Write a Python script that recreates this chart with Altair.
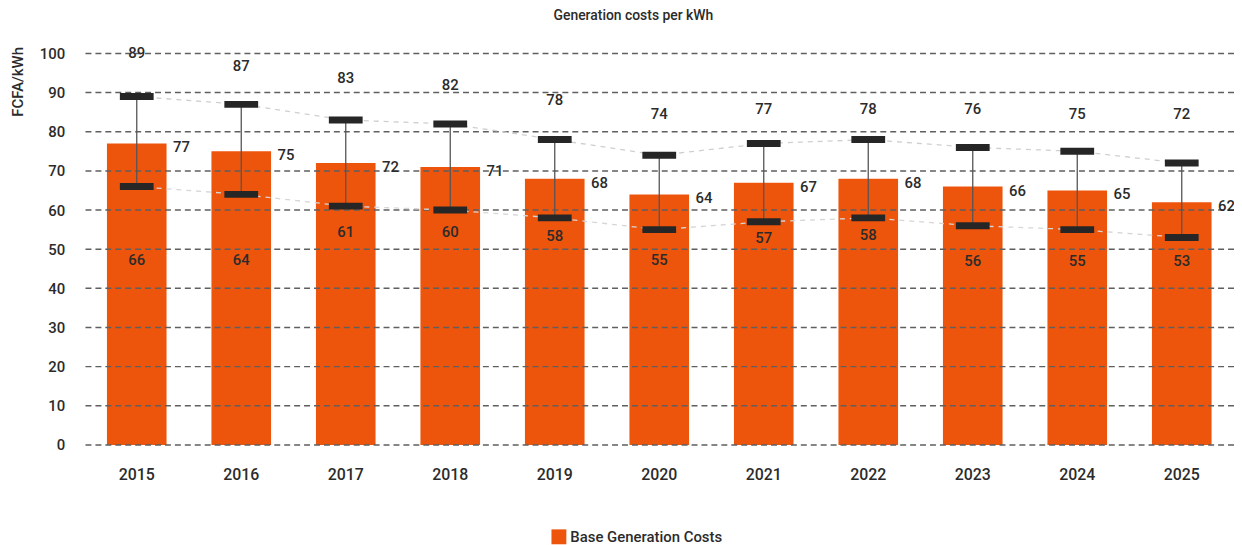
import altair as alt
import pandas as pd

years = ["2015", "2016", "2017", "2018", "2019", "2020", "2021", "2022", "2023", "2024", "2025"]
base = [77, 75, 72, 71, 68, 64, 67, 68, 66, 65, 62]
upper = [89, 87, 83, 82, 78, 74, 77, 78, 76, 75, 72]
lower = [66, 64, 61, 60, 58, 55, 57, 58, 56, 55, 53]
upper_label_at = [100, 96.7, 93.7, 91.9, 88.1, 84.5, 85.8, 85.8, 85.8, 84.5, 84.5]
lower_label_at = [47.2, 47.2, 54.3, 54.3, 53.3, 47.2, 52.8, 53.5, 47.0, 47.0, 47.0]
grid_values = [0, 10, 20, 30, 40, 50, 60, 70, 80, 90, 100]
series_name = "Base Generation Costs"

df = pd.DataFrame({
    "year": years, "base": base, "upper": upper, "lower": lower,
    "upper_lab": upper_label_at, "lower_lab": lower_label_at,
    "series": [series_name] * len(years),
})
grid_df = pd.DataFrame({"g": grid_values})

FONT = "Roboto"
TXT = "#2b2b2b"

x_axis = alt.Axis(title=None, labelAngle=0, labelFontSize=16, labelColor=TXT,
                  labelFontWeight=500, labelPadding=22, ticks=False, domain=False)
x_scale = alt.Scale(paddingInner=0.43, paddingOuter=0.215)
y_axis = alt.Axis(values=grid_values, title="FCFA/kWh", titleFontSize=15,
                  titleColor=TXT, titleFontWeight=500, titleAngle=270,
                  titleAlign="right", titleBaseline="middle",
                  titleX=-67, titleY=-7,
                  labelFontSize=15, labelColor=TXT, labelPadding=20,
                  labelFontWeight=500, labelOverlap=False, labelFlush=False,
                  ticks=False, domain=False, grid=False)
y_scale = alt.Scale(domain=[0, 100], nice=False)


def xs():
    return alt.X("year:N", sort=years, scale=x_scale, axis=x_axis)


def ys(field):
    return alt.Y(field, scale=y_scale, axis=y_axis)


base_chart = alt.Chart(df)

bars = base_chart.mark_bar(size=60).encode(
    x=xs(),
    y=ys("base:Q"),
    color=alt.Color("series:N",
                    scale=alt.Scale(domain=[series_name], range=["#EE550C"]),
                    legend=alt.Legend(title=None, orient="none", legendX=470, legendY=479,
                                      symbolType="square", symbolSize=225,
                                      symbolStrokeWidth=0, labelFontSize=15,
                                      labelColor=TXT, labelFontWeight=500,
                                      labelFont=FONT, symbolOpacity=1)),
)

grid = alt.Chart(grid_df).mark_rule(color="#5f5f5f", strokeDash=[6, 4], strokeWidth=1.5).encode(
    y=ys("g:Q")
)

up_line = base_chart.mark_line(color="#cfcfcf", strokeDash=[5, 5], strokeWidth=1.3).encode(
    x=xs(), y=ys("upper:Q")
)
low_line = base_chart.mark_line(color="#d6d6d6", strokeDash=[5, 5], strokeWidth=1.3).encode(
    x=xs(), y=ys("lower:Q")
)

whisker = base_chart.mark_rule(color="#555555", strokeWidth=1.3).encode(
    x=xs(), y=ys("lower:Q"), y2="upper:Q"
)

cap_up = base_chart.mark_tick(color="#262626", size=34, thickness=7, opacity=1).encode(
    x=xs(), y=ys("upper:Q")
)
cap_low = base_chart.mark_tick(color="#262626", size=34, thickness=7, opacity=1).encode(
    x=xs(), y=ys("lower:Q")
)

txt_kw = dict(font=FONT, fontSize=15, fontWeight=500, color=TXT, baseline="middle")

up_text = base_chart.mark_text(**txt_kw).encode(
    x=xs(), y=ys("upper_lab:Q"), text="upper:Q"
)
base_text = base_chart.mark_text(dx=45, dy=4, **txt_kw).encode(
    x=xs(), y=ys("base:Q"), text="base:Q"
)
low_text = base_chart.mark_text(**txt_kw).encode(
    x=xs(), y=ys("lower_lab:Q"), text="lower:Q"
)

chart = alt.layer(
    bars, grid, up_line, low_line, whisker, cap_up, cap_low, up_text, base_text, low_text
).properties(
    width=1157, height=394,
    title=alt.TitleParams("Generation costs per kWh", fontSize=14, font=FONT,
                          fontWeight=500, color=TXT, anchor="middle", offset=24, dx=-26),
    autosize=alt.AutoSizeParams(type="none"),
    padding={"left": 77, "top": 44, "right": 0, "bottom": 104},
).configure(font=FONT).configure_view(stroke=None)

chart.save("out.html", embed_options={"renderer": "svg", "actions": False})
